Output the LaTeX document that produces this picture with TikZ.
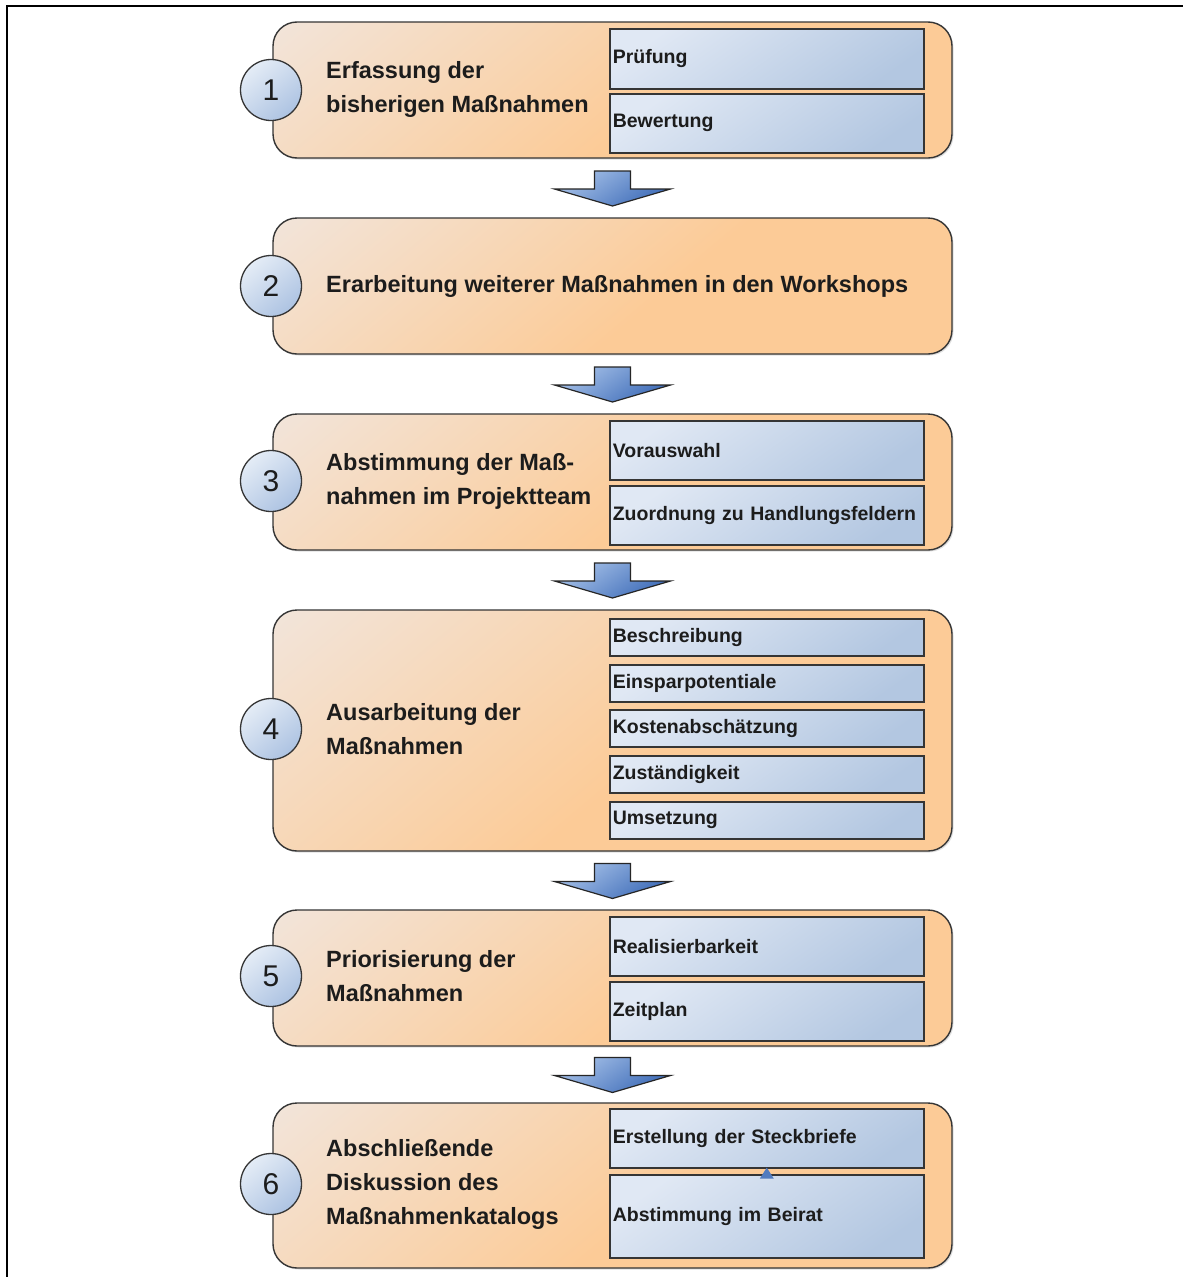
\documentclass[tikz,border=0pt]{standalone}
\usepackage{fontspec}
\setmainfont{Liberation Sans}
\usetikzlibrary{shadows}

\definecolor{peach}{HTML}{FCCB97}
\definecolor{haze}{HTML}{EEEEF3}
\definecolor{paleblue}{HTML}{E0E8F4}
\definecolor{steelblue}{HTML}{B3C7E1}
\definecolor{ringtop}{HTML}{E4ECF6}
\definecolor{ringbottom}{HTML}{ADC3E2}
\definecolor{arrowlight}{HTML}{A6C1E8}
\definecolor{arrowdark}{HTML}{3E6CB8}
\definecolor{edge}{HTML}{353535}
\definecolor{ink}{HTML}{1C1C1C}

% stage background: peach over most of the box, fading to a pale grey at the top
\pgfdeclareverticalshading{stagefill}{100bp}{color(0bp)=(peach); color(45bp)=(peach); color(100bp)=(haze)}

\tikzset{
  stage/.style={draw=edge, line width=1.4pt, rounded corners=24pt, shading=stagefill,
    shading angle=40, minimum width=679pt,
    drop shadow={shadow xshift=1.5pt, shadow yshift=-1.5pt, opacity=0.25}},
  stagetext/.style={anchor=west, align=left, text=ink,
    font=\bfseries\fontsize{23.5}{34}\selectfont, inner sep=0pt},
  stepnum/.style={circle, draw=edge, line width=1.3pt, minimum size=61pt, inner sep=0pt,
    top color=ringtop, bottom color=ringbottom, shading angle=40, text=ink,
    font=\fontsize{30}{30}\selectfont},
  subbox/.style={draw=edge, line width=1.6pt, anchor=north west, minimum width=314pt,
    text width=308pt, inner sep=3pt, align=left, text=ink,
    top color=paleblue, bottom color=steelblue, shading angle=35,
    font=\bfseries\fontsize{19.5}{22}\selectfont,
    drop shadow={shadow xshift=1pt, shadow yshift=-1pt, opacity=0.3}},
  arrowfill/.style={draw=black!85, line width=1.2pt, top color=arrowlight,
    bottom color=arrowdark, shading angle=35},
  flowarrow/.pic={
    \draw[arrowfill] (-18,-17) -- (18,-17) -- (18,1) -- (58,1) -- (0,18) -- (-58,1) -- (-18,1) -- cycle;
  }
}

\begin{document}
\begin{tikzpicture}[x=1pt, y=-1pt]
\useasboundingbox (0,0) rectangle (1183,1277);
\fill[white] (0,0) rectangle (1183,1277);

% outer frame, only the top and left edges fall inside the page
\draw[line width=2.6pt] (7,1290) -- (7,6) -- (1195,6);

% stage boxes
\node[stage, minimum height=136pt] (s1) at (612.5,90) {};
\node[stage, minimum height=136pt] (s2) at (612.5,286) {};
\node[stage, minimum height=136pt] (s3) at (612.5,482) {};
\node[stage, minimum height=241pt] (s4) at (612.5,730.5) {};
\node[stage, minimum height=136pt] (s5) at (612.5,978) {};
\node[stage, minimum height=165pt] (s6) at (612.5,1185.5) {};

% numbered circles on the left edge
\foreach \i/\yy in {1/90,2/286,3/481,4/729,5/976,6/1184}
  \node[stepnum] (n\i) at (271,\yy) {\i};

% stage titles
\node[stagetext] (t1) at (326,89) {Erfassung der\\bisherigen Maßnahmen};
\node[stagetext] (t2) at (326,286) {Erarbeitung weiterer Maßnahmen in den Workshops};
\node[stagetext] (t3) at (326,481) {Abstimmung der Maß-\\nahmen im Projektteam};
\node[stagetext] (t4) at (326,729) {Ausarbeitung der\\Maßnahmen};
\node[stagetext] (t5) at (326,976) {Priorisierung der\\Maßnahmen};
\node[stagetext] (t6) at (326,1184) {Abschließende\\Diskussion des\\Maßnahmenkatalogs};

% sub-steps
\node[subbox, minimum height=60pt] (pr1) at (609,28) {Prüfung};
\node[subbox, minimum height=59pt] (bw1) at (609,93) {Bewertung};

\node[subbox, minimum height=59pt] (va3) at (609,420) {Vorauswahl};
\node[subbox, minimum height=59pt] (zh3) at (609,485) {Zuordnung zu Handlungsfeldern};

\node[subbox, minimum height=37pt] (be4) at (609,618) {Beschreibung};
\node[subbox, minimum height=37pt] (ei4) at (609,664) {Einsparpotentiale};
\node[subbox, minimum height=37pt] (ko4) at (609,709) {Kostenabschätzung};
\node[subbox, minimum height=37pt] (zu4) at (609,755) {Zuständigkeit};
\node[subbox, minimum height=37pt] (um4) at (609,801) {Umsetzung};

\node[subbox, minimum height=59pt] (re5) at (609,916) {Realisierbarkeit};
\node[subbox, minimum height=59pt] (zp5) at (609,981) {Zeitplan};

\node[subbox, minimum height=59pt] (st6) at (609,1108) {Erstellung der Steckbriefe};
\node[subbox, minimum height=83pt] (ab6) at (609,1174) {Abstimmung im Beirat};

% small up-pointing tip between the last two sub-steps
\fill[arrowdark!90!white] ([yshift=1pt]st6.south) -- ++(7,11) -- ++(-14,0) -- cycle;

% block arrows between the stages
\foreach \a/\b in {1/2,2/3,3/4,4/5,5/6}{
  \path (s\a.south) -- (s\b.north) coordinate[midway] (m\a);
  \pic at (m\a) {flowarrow};
}
\end{tikzpicture}
\end{document}
